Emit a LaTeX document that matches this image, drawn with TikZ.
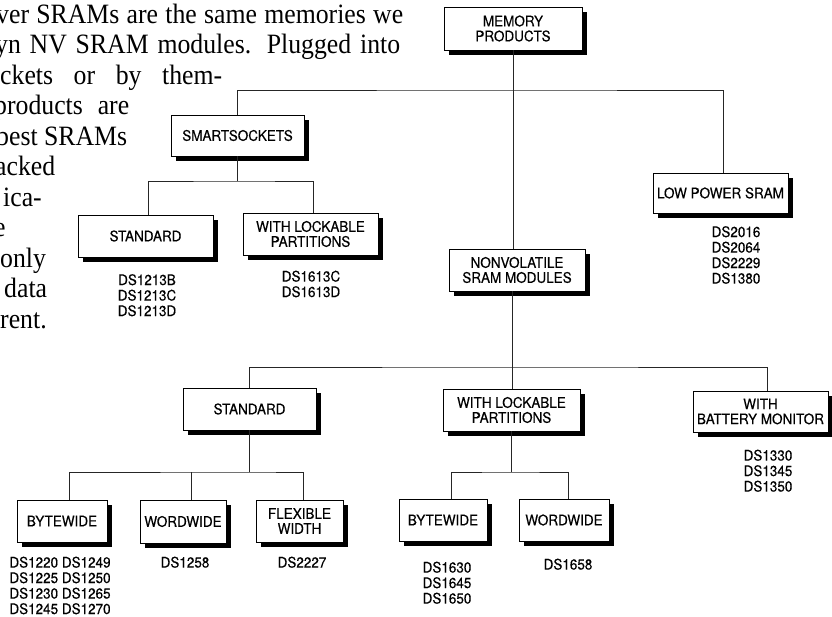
\documentclass[tikz,border=0pt]{standalone}
\usepackage{fontspec}
\setmainfont[FakeStretch=0.92]{Liberation Serif}
\newfontfamily\hv[FakeStretch=0.93,FakeBold=0.3]{TeX Gyre Heros}
\begin{document}
\begin{tikzpicture}[x=1pt,y=-1pt,
  box/.style={draw=black, line width=0.8pt, fill=white, inner sep=0pt, align=center,
    font=\hv\fontsize{14.5}{15}\selectfont},
  parts/.style={inner sep=0pt, align=center, anchor=north, font=\hv\fontsize{14.5}{15.5}\selectfont},
  para/.style={inner sep=0pt, anchor=base west, font=\fontsize{28}{30}\selectfont},
  link/.style={line width=0.8pt, black!85}]
\useasboundingbox (0,0) rectangle (832,617);

% drop shadows (drawn first, the white boxes cover them)
\fill[black] (449,12) rectangle (587,55);
\fill[black] (176,120) rectangle (309,161);
\fill[black] (658,178) rectangle (793,218);
\fill[black] (454,254) rectangle (590,296);
\fill[black] (83,220) rectangle (218,262);
\fill[black] (248,218) rectangle (383,260);
\fill[black] (188,393) rectangle (321,435);
\fill[black] (448,394) rectangle (585,436);
\fill[black] (698,396) rectangle (833,437);
\fill[black] (22,505) rectangle (112,547);
\fill[black] (145,505) rectangle (231,548);
\fill[black] (261,505) rectangle (348,547);
\fill[black] (404,504) rectangle (492,546);
\fill[black] (524,504) rectangle (614,546);

% paragraph text at left (clipped by page edge)
\node[para] (t1) at (-4,23.5) {\makebox[407pt][s]{ver SRAMs are the same memories we}};
\node[para] (t2) at (-5,54) {\makebox[405pt][s]{yn NV SRAM modules. Plugged into}};
\node[para] (t3) at (0,84.5) {\makebox[222pt][s]{ckets or by them-}};
\node[para] (t4) at (-6,115) {\makebox[135pt][s]{products are}};
\node[para] (t5) at (-4,145.5) {best SRAMs};
\node[para] (t6) at (-5,176) {acked};
\node[para] (t7) at (3,206.5) {ica-};
\node[para] (t8) at (-6,237) {e};
\node[para] (t9) at (0,267.5) {only};
\node[para] (t10) at (4,298) {data};
\node[para] (t11) at (0,328.5) {rent.};

% boxes
\node[box, minimum width=138, minimum height=43] (mem) at (513,28.5) {MEMORY\\PRODUCTS};
\node[box, minimum width=133, minimum height=41] (smart) at (237.5,135.5) {SMARTSOCKETS};
\node[box, minimum width=135, minimum height=40] (low) at (720.5,193) {LOW POWER SRAM};
\node[box, minimum width=136, minimum height=42] (nv) at (517,270) {NONVOLATILE\\SRAM MODULES};
\node[box, minimum width=135, minimum height=42] (std1) at (145.5,236) {STANDARD};
\node[box, minimum width=135, minimum height=42] (lock1) at (310.5,234) {WITH LOCKABLE\\PARTITIONS};
\node[box, minimum width=133, minimum height=42] (std2) at (249.5,409) {STANDARD};
\node[box, minimum width=137, minimum height=42] (lock2) at (511.5,410) {WITH LOCKABLE\\PARTITIONS};
\node[box, minimum width=135, minimum height=41] (batt) at (760.5,411.5) {WITH\\BATTERY MONITOR};
\node[box, minimum width=90, minimum height=42] (bw1) at (62,521) {BYTEWIDE};
\node[box, minimum width=86, minimum height=43] (ww1) at (183,521.5) {WORDWIDE};
\node[box, minimum width=87, minimum height=42] (flex) at (299.5,521) {FLEXIBLE\\WIDTH};
\node[box, minimum width=88, minimum height=42] (bw2) at (443,520) {BYTEWIDE};
\node[box, minimum width=90, minimum height=42] (ww2) at (564,520) {WORDWIDE};

% connectors
\coordinate (b1) at (513,90);
\draw[link] (mem.south) -- (mem.south |- nv.north);
\draw[link] (smart.north) |- (b1) -| ([xshift=2.5pt]low.north);

\coordinate (b2) at (237.5,181);
\draw[link] (smart.south) -- (b2);
\draw[link] ([xshift=2.5pt]std1.north) |- (b2) -| ([xshift=2.5pt]lock1.north);

\coordinate (b3) at (512,367);
\draw[link] ([xshift=-5pt]nv.south) -- ([xshift=0.5pt]lock2.north);
\draw[link] (std2.north) |- (b3) -| ([xshift=6.5pt]batt.north);

\coordinate (b4) at (249.5,472);
\draw[link] (std2.south) -- (b4);
\draw[link] ([xshift=7pt]bw1.north) |- (b4) -| ([xshift=3.5pt]flex.north);
\draw[link] ([xshift=8pt]ww1.north) -- ([xshift=8pt]ww1.north |- b4);

\coordinate (b5) at (511.5,472);
\draw[link] (lock2.south) -- (b5);
\draw[link] ([xshift=8pt]bw2.north) |- (b5) -| ([xshift=4pt]ww2.north);

% part numbers
\node[parts] (p1) at (147,274) {DS1213B\\DS1213C\\DS1213D};
\node[parts] (p2) at (311,270.5) {DS1613C\\DS1613D};
\node[parts] (p3) at (736,226) {DS2016\\DS2064\\DS2229\\DS1380};
\node[parts] (p4) at (768,449.5) {DS1330\\DS1345\\DS1350};
\node[parts] (p5) at (60,556.5) {DS1220 DS1249\\DS1225 DS1250\\DS1230 DS1265\\DS1245 DS1270};
\node[parts] (p6) at (185,556.5) {DS1258};
\node[parts] (p7) at (302,556.5) {DS2227};
\node[parts] (p8) at (447,561.5) {DS1630\\DS1645\\DS1650};
\node[parts] (p9) at (568,558.5) {DS1658};
\end{tikzpicture}
\end{document}
